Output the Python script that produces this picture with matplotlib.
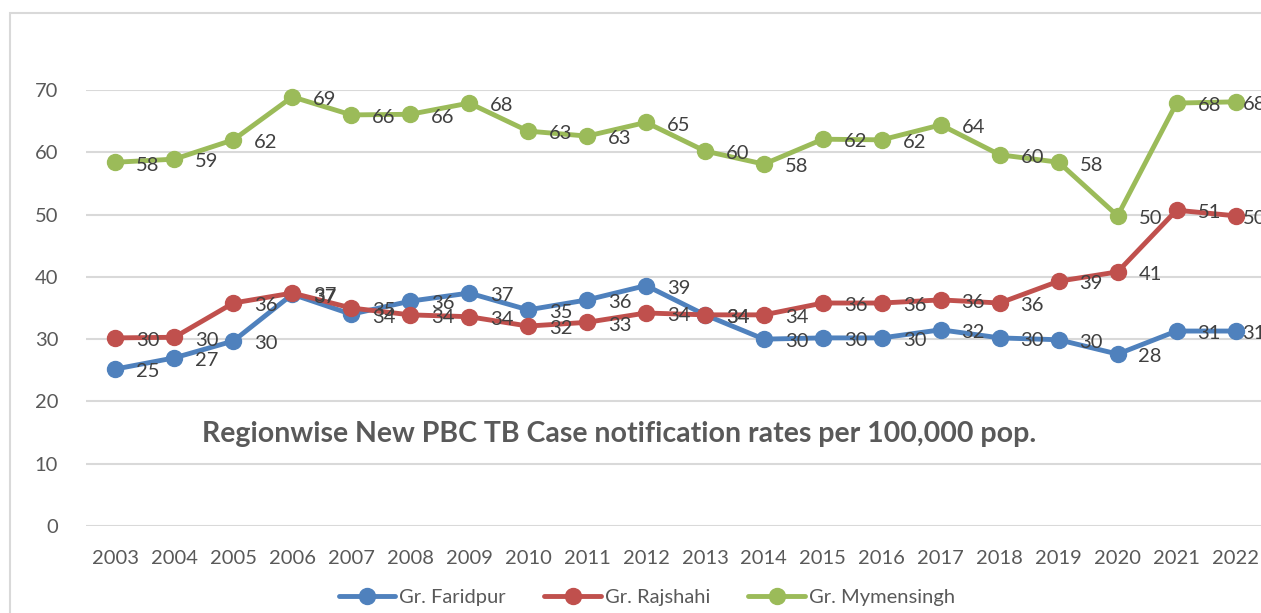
import numpy as np
import matplotlib.pyplot as plt
from matplotlib.patches import Rectangle

plt.rcParams['font.family'] = ['Lato', 'DejaVu Sans']

years = list(range(2003, 2023))
faridpur = [25.2, 27.0, 29.7, 37.2, 34.0, 36.1, 37.4, 34.7, 36.3, 38.6,
            33.9, 30.0, 30.2, 30.2, 31.5, 30.2, 29.9, 27.6, 31.3, 31.3]
rajshahi = [30.2, 30.3, 35.8, 37.4, 35.0, 33.9, 33.6, 32.1, 32.7, 34.2,
            33.9, 33.9, 35.8, 35.8, 36.3, 35.8, 39.3, 40.8, 50.7, 49.8]
mymensingh = [58.4, 58.9, 62.0, 68.9, 66.0, 66.1, 67.9, 63.4, 62.6, 64.8,
              60.2, 58.1, 62.1, 62.0, 64.4, 59.6, 58.4, 49.8, 67.9, 68.1]
names = ['Gr. Faridpur', 'Gr. Rajshahi', 'Gr. Mymensingh']
colors = ['#4f81bd', '#c0504d', '#9bbb59']
txt = '#404040'

fig = plt.figure(figsize=(12.61, 6.13), dpi=100)
fig.patches.append(Rectangle((10/1261, -0.05), 1.1, 1 - 13/613 + 0.05,
                             transform=fig.transFigure, fill=False,
                             edgecolor='#d9d9d9', linewidth=1.5))
ax = fig.add_axes([86/1261, 87/613, 1179/1261, 436/613])

for vals, name, c in zip([faridpur, rajshahi, mymensingh], names, colors):
    ax.plot(years, vals, color=c, lw=3.5, marker='o', ms=11.5, label=name,
            clip_on=False, solid_capstyle='round')
    for x, y in zip(years, vals):
        # last label gets pushed in by the chart edge
        dx = 5 if x == years[-1] else 15
        ax.annotate(str(int(round(y))), (x, y), xytext=(dx, -2),
                    textcoords='offset points', ha='left', va='center',
                    fontsize=14.5, color=txt)

ax.set_xlim(2002.5, 2022.5)
ax.set_ylim(0, 70)
ax.set_xticks(years)
ax.set_yticks(range(0, 71, 10))
ax.tick_params(length=0, labelsize=14.5, colors='#595959', pad=17)
ax.tick_params(axis='y', pad=20)
for s in ax.spines.values():
    s.set_visible(False)
ax.grid(axis='y', color='#d9d9d9', lw=1.5)
ax.set_axisbelow(True)

ax.text(2011.54, 14.8, 'Regionwise New PBC TB Case notification rates per 100,000 pop.',
        ha='center', va='center', fontsize=20.5, fontweight='bold', color='#595959')

fig.legend(loc='center', bbox_to_anchor=(647/1261, 16/613), ncol=3, frameon=False,
           fontsize=14.5, handlelength=2.8, columnspacing=1.9, handletextpad=0.2,
           labelcolor='#595959')

fig.savefig('out.png', dpi=100)
